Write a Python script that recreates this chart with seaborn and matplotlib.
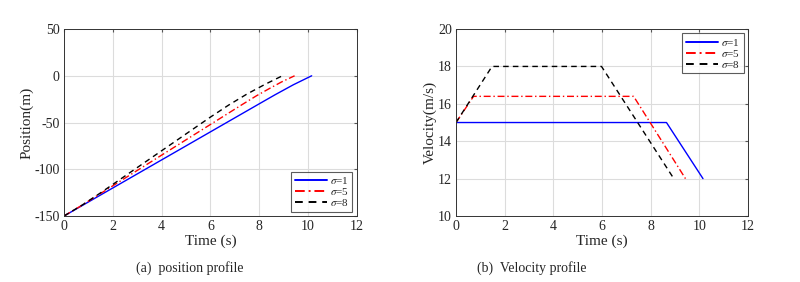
import pandas as pd
import matplotlib
matplotlib.use("Agg")
import matplotlib.pyplot as plt
import seaborn as sns

# values
labels = [r"$\sigma$=1", r"$\sigma$=5", r"$\sigma$=8"]

# position profile (a)
t_pos_1 = [0, 2, 4, 6, 8, 8.65, 9.4, 10.15]
pos_1 = [-150, -120, -90, -60, -30, -20.3, -9.6, 0]
t_pos_5 = [0, 0.7, 2, 4, 6, 7.3, 7.9, 8.4, 8.9, 9.45]
pos_5 = [-150, -139, -117.7, -84.9, -52.1, -30.8, -21.2, -13.9, -6.8, 0]
t_pos_8 = [0, 0.75, 1.5, 4, 6, 6.75, 7.5, 8.25, 8.95]
pos_8 = [-150, -138.2, -125.2, -80.2, -44.2, -31.3, -19.5, -9.0, 0]

# velocity profile (b)
t_vel_1 = [0, 8.65, 10.15]
vel_1 = [15, 15, 12]
t_vel_5 = [0, 0.72, 7.3, 9.43]
vel_5 = [15, 16.4, 16.4, 12]
t_vel_8 = [0, 1.48, 5.98, 8.95]
vel_8 = [15, 18, 18, 12]

sns.set_style("white")
plt.rcParams["font.family"] = ["Liberation Serif", "DejaVu Serif"]
plt.rcParams["mathtext.fontset"] = "stix"
plt.rcParams["axes.unicode_minus"] = False

colors = ["#0000ff", "#ff0000", "#000000"]
styles = ["-", (0, (5, 2, 1, 2)), (0, (4, 3))]

fig = plt.figure(figsize=(8, 2.82), dpi=100)
ax1 = fig.add_axes([0.08, 0.234, 0.366, 0.663])
ax2 = fig.add_axes([0.57, 0.234, 0.365, 0.663])

pos_data = [(t_pos_1, pos_1), (t_pos_5, pos_5), (t_pos_8, pos_8)]
vel_data = [(t_vel_1, vel_1), (t_vel_5, vel_5), (t_vel_8, vel_8)]

for ax, data in [(ax1, pos_data), (ax2, vel_data)]:
    for (t, v), lab, c, ls in zip(data, labels, colors, styles):
        df = pd.DataFrame({"t": t, "v": v})
        sns.lineplot(data=df, x="t", y="v", ax=ax, color=c, linestyle=ls,
                     linewidth=1.0, label=lab, sort=False)

ax1.set_ylim(-150, 50)
ax1.set_yticks([-150, -100, -50, 0, 50])
ax1.set_ylabel("Position(m)", fontsize=11, labelpad=1)
ax2.set_ylim(10, 20)
ax2.set_yticks([10, 12, 14, 16, 18, 20])
ax2.set_ylabel("Velocity(m/s)", fontsize=11, labelpad=1)

for ax in (ax1, ax2):
    ax.set_xlim(0, 12)
    ax.set_xticks([0, 2, 4, 6, 8, 10, 12])
    ax.set_xlabel("Time (s)", fontsize=11, labelpad=1)
    ax.grid(True, color="#dcdcdc", linewidth=0.8)
    ax.tick_params(direction="in", length=2.5, labelsize=10, pad=3,
                   top=True, right=True, color="#555555")
    for s in ax.spines.values():
        s.set_color("#333333")
        s.set_linewidth(0.7)

leg_kw = dict(fontsize=8, frameon=True, fancybox=False, edgecolor="#333333",
              handlelength=2.9, handletextpad=0.3, borderpad=0.3,
              labelspacing=0.0, borderaxespad=0.4)
l1 = ax1.legend(loc="lower right", **leg_kw)
l2 = ax2.legend(loc="upper right", **leg_kw)
for l in (l1, l2):
    l.get_frame().set_linewidth(0.8)
    for h in l.get_lines():
        h.set_linewidth(1.4)

fig.text(0.2375, 0.035, "(a)  position profile", ha="center", fontsize=10)
fig.text(0.665, 0.035, "(b)  Velocity profile", ha="center", fontsize=10)

fig.savefig("out.png", dpi=100)
